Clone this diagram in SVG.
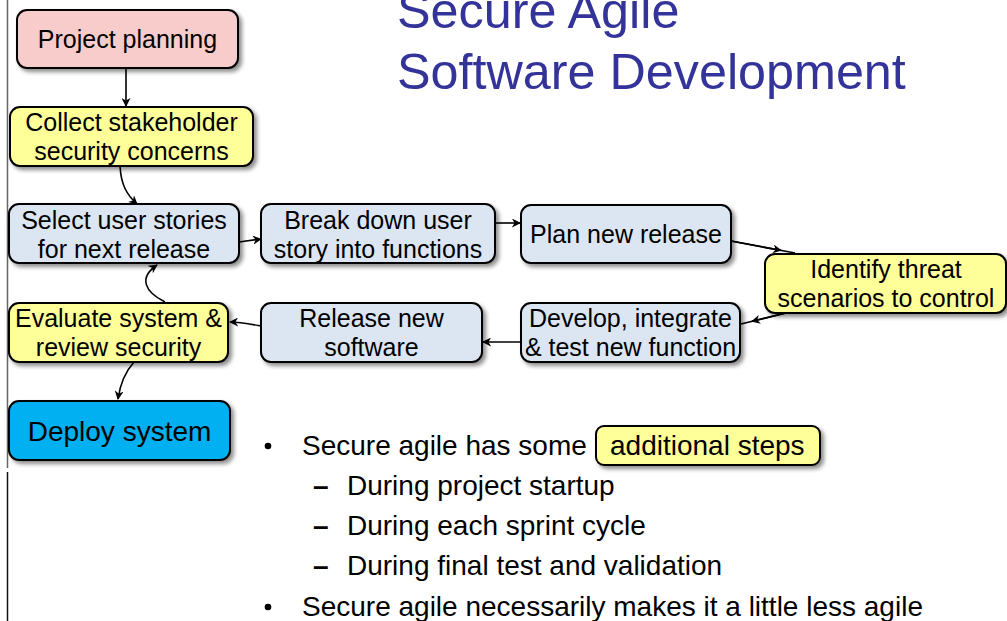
<svg xmlns="http://www.w3.org/2000/svg" width="1007" height="621" viewBox="0 0 1007 621">
  <defs>
    <filter id="shadow" x="-10%" y="-20%" width="130%" height="150%">
      <feDropShadow dx="3" dy="3" stdDeviation="2" flood-color="#000" flood-opacity="0.45"/>
    </filter>
    <marker id="arrow" viewBox="0 0 10 10" refX="9" refY="5" markerWidth="9" markerHeight="9" markerUnits="userSpaceOnUse" orient="auto">
      <path d="M0,0 L10,5 L0,10 L3,5 Z" fill="#000"/>
    </marker>
  </defs>
  <style>
    .box { stroke: #000; stroke-width: 2; filter: url(#shadow); }
    .pink { fill: #F9CCCC; }
    .yellow { fill: #FFFF99; }
    .blue { fill: #DCE6F2; }
    .cyan { fill: #00B0F0; }
    .lbl { font-family: "Liberation Sans", Arial, sans-serif; font-size: 25px; fill: #000; text-anchor: middle; }
    .big { font-size: 28px; }
    .title { font-family: "Liberation Sans", Arial, sans-serif; font-size: 50.3px; fill: #333399; }
    .body { font-family: "Liberation Sans", Arial, sans-serif; font-size: 28px; fill: #000; }
    .dash { font-weight: bold; }
    .conn { fill: none; stroke: #000; stroke-width: 1.6; }
  </style>
  <rect width="1007" height="621" fill="#fff"/>

  <!-- page margin rule -->
  <line x1="7.5" y1="0" x2="7.5" y2="468" stroke="#666" stroke-width="1.5"/>
  <line x1="7.5" y1="472" x2="7.5" y2="621" stroke="#111" stroke-width="1.5"/>

  <!-- heading -->
  <text class="title" x="397" y="28">Secure Agile</text>
  <text class="title" x="397" y="89">Software Development</text>

  <!-- flow connectors -->
  <g id="connectors">
    <line class="conn" x1="126" y1="68" x2="126" y2="106" marker-end="url(#arrow)"/>
    <path class="conn" d="M120,166 C121,185 127,195 137,204" marker-end="url(#arrow)"/>
    <line class="conn" x1="239" y1="242" x2="261" y2="239" marker-end="url(#arrow)"/>
    <line class="conn" x1="495" y1="223" x2="520" y2="223" marker-end="url(#arrow)"/>
    <line class="conn" x1="731" y1="241" x2="795" y2="253"/>
    <line class="conn" x1="731" y1="241" x2="781" y2="250.4" marker-end="url(#arrow)"/>
    <line class="conn" x1="790" y1="312" x2="741" y2="324"/>
    <line class="conn" x1="790" y1="312" x2="752" y2="321.3" marker-end="url(#arrow)"/>
    <line class="conn" x1="521" y1="342" x2="483" y2="342" marker-end="url(#arrow)"/>
    <path class="conn" d="M261,326 C250,324 240,322 230,322" marker-end="url(#arrow)"/>
    <path class="conn" d="M165,302 C145,292 138,278 157,265" marker-end="url(#arrow)"/>
    <path class="conn" d="M134,362 C125,372 120,385 118,399" marker-end="url(#arrow)"/>
  </g>

  <!-- process steps -->
  <g id="project-planning">
    <rect class="box pink" x="17" y="10" width="221" height="58" rx="10"/>
    <text class="lbl" x="127.5" y="48">Project planning</text>
  </g>
  <g id="collect-concerns">
    <rect class="box yellow" x="10" y="107" width="243" height="59" rx="10"/>
    <text class="lbl" x="131.5" y="131">Collect stakeholder</text>
    <text class="lbl" x="131.5" y="160">security concerns</text>
  </g>
  <g id="select-stories">
    <rect class="box blue" x="9" y="204" width="230" height="59" rx="10"/>
    <text class="lbl" x="124" y="229">Select user stories</text>
    <text class="lbl" x="124" y="258">for next release</text>
  </g>
  <g id="break-down">
    <rect class="box blue" x="261" y="204" width="234" height="59" rx="10"/>
    <text class="lbl" x="378" y="229">Break down user</text>
    <text class="lbl" x="378" y="258">story into functions</text>
  </g>
  <g id="plan-release">
    <rect class="box blue" x="521" y="205" width="210" height="58" rx="10"/>
    <text class="lbl" x="626" y="243">Plan new release</text>
  </g>
  <g id="identify-threats">
    <rect class="box yellow" x="765" y="254" width="241" height="59" rx="10"/>
    <text class="lbl" x="886" y="278">Identify threat</text>
    <text class="lbl" x="886" y="307">scenarios to control</text>
  </g>
  <g id="develop">
    <rect class="box blue" x="521" y="303" width="219" height="59" rx="10"/>
    <text class="lbl" x="630.5" y="327">Develop, integrate</text>
    <text class="lbl" x="630.5" y="356">&amp; test new function</text>
  </g>
  <g id="release-software">
    <rect class="box blue" x="261" y="303" width="221" height="59" rx="10"/>
    <text class="lbl" x="371.5" y="327">Release new</text>
    <text class="lbl" x="371.5" y="356">software</text>
  </g>
  <g id="evaluate">
    <rect class="box yellow" x="9" y="303" width="219" height="59" rx="10"/>
    <text class="lbl" x="118.5" y="327">Evaluate system &amp;</text>
    <text class="lbl" x="118.5" y="356">review security</text>
  </g>
  <g id="deploy">
    <rect class="box cyan" x="9" y="401" width="221" height="59" rx="10"/>
    <text class="lbl big" x="119.5" y="441">Deploy system</text>
  </g>

  <!-- bullet list -->
  <g id="notes">
    <circle cx="268" cy="446" r="3.3" fill="#000"/>
    <text class="body" x="302" y="455">Secure agile has some</text>
    <rect class="box yellow" x="596" y="426" width="224" height="39" rx="8"/>
    <text class="body" x="610" y="455">additional steps</text>
    <text class="body dash" x="313" y="495">–</text>
    <text class="body" x="347" y="495">During project startup</text>
    <text class="body dash" x="313" y="535">–</text>
    <text class="body" x="347" y="535">During each sprint cycle</text>
    <text class="body dash" x="313" y="575">–</text>
    <text class="body" x="347" y="575">During final test and validation</text>
    <circle cx="268" cy="607" r="3.3" fill="#000"/>
    <text class="body" x="302" y="616">Secure agile necessarily makes it a little less agile</text>
  </g>
</svg>
